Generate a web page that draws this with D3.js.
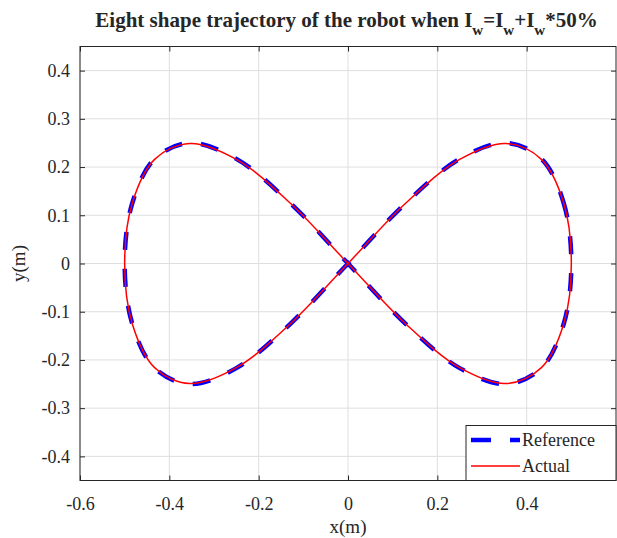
<!DOCTYPE html>
<html>
<head>
<meta charset="utf-8">
<script src="https://cdn.jsdelivr.net/npm/d3@7"></script>
<style>
  body { margin: 0; background: #fff; }
  text { font-family: "Liberation Serif", "Times New Roman", serif; fill: #262626; }
</style>
</head>
<body>
<div id="svg-holder"></div>
<script>
// trajectory points (x, y in metres)
const refX = [0.500, 0.483, 0.433, 0.354, 0.250, 0.129, 0.000, -0.129, -0.250, -0.354, -0.433, -0.483,
              -0.500, -0.483, -0.433, -0.354, -0.250, -0.129, 0.000, 0.129, 0.250, 0.354, 0.433, 0.483, 0.500];
const refY = [0.000, 0.125, 0.217, 0.250, 0.217, 0.125, 0.000, -0.125, -0.217, -0.250, -0.217, -0.125,
              0.000, 0.125, 0.217, 0.250, 0.217, 0.125, 0.000, -0.125, -0.217, -0.250, -0.217, -0.125, 0.000];
const actX = [0.500, 0.483, 0.433, 0.354, 0.250, 0.129, 0.000, -0.129, -0.250, -0.354, -0.433, -0.483,
              -0.500, -0.483, -0.433, -0.354, -0.250, -0.129, 0.000, 0.129, 0.250, 0.354, 0.433, 0.483, 0.500];
const actY = [0.000, 0.125, 0.216, 0.249, 0.216, 0.125, 0.000, -0.125, -0.216, -0.249, -0.216, -0.125,
              0.000, 0.125, 0.216, 0.249, 0.216, 0.125, 0.000, -0.125, -0.216, -0.249, -0.216, -0.125, 0.000];
const xTicks = [-0.6, -0.4, -0.2, 0, 0.2, 0.4];
const yTicks = [-0.4, -0.3, -0.2, -0.1, 0, 0.1, 0.2, 0.3, 0.4];
const seriesNames = ["Reference", "Actual"];

const W = 617, H = 538;
const L = 80, R = 616, T = 46.5, B = 480.5;
const serif = '"Liberation Serif", "Times New Roman", serif';

let svg = d3.select("#svg-holder").append("svg")
  .attr("width", W).attr("height", H);

const x = d3.scaleLinear().domain([-0.6, 0.6]).range([L, R]);
const y = d3.scaleLinear().domain([-0.45, 0.45]).range([B, T]);

// grid
svg.append("g").selectAll("line").data(xTicks).join("line")
  .attr("x1", d => x(d)).attr("x2", d => x(d)).attr("y1", T).attr("y2", B)
  .attr("stroke", "#dfdfdf").attr("stroke-width", 1);
svg.append("g").selectAll("line").data(yTicks).join("line")
  .attr("x1", L).attr("x2", R).attr("y1", d => y(d)).attr("y2", d => y(d))
  .attr("stroke", "#dfdfdf").attr("stroke-width", 1);

// axes (ticks inward, box on)
const fmt = d => d === 0 ? "0" : d.toFixed(1);   // plain hyphen minus like the reference
function styleAxis(g) {
  g.attr("font-family", serif);
  g.select(".domain").remove();
  g.selectAll(".tick line").attr("stroke", "#262626");
  g.selectAll(".tick text").style("font-size", "18px").style("font-family", serif).attr("fill", "#262626");
}
svg.append("g").attr("transform", `translate(0,${B})`)
  .call(d3.axisBottom(x).tickValues(xTicks).tickFormat(fmt).tickSizeInner(-5).tickSizeOuter(0).tickPadding(17))
  .call(styleAxis);
svg.append("g").attr("transform", `translate(0,${T})`)
  .call(d3.axisTop(x).tickValues(xTicks).tickFormat("").tickSizeInner(-5).tickSizeOuter(0))
  .call(styleAxis);
svg.append("g").attr("transform", `translate(${L},0)`)
  .call(d3.axisLeft(y).tickValues(yTicks).tickFormat(fmt).tickSizeInner(-5).tickSizeOuter(0).tickPadding(10))
  .call(styleAxis);
svg.append("g").attr("transform", `translate(${R},0)`)
  .call(d3.axisRight(y).tickValues(yTicks).tickFormat("").tickSizeInner(-5).tickSizeOuter(0))
  .call(styleAxis);

// lines
const refPts = refX.map((v, i) => [v, refY[i]]);
const actPts = actX.map((v, i) => [v, actY[i]]);
const line = d3.line().x(d => x(d[0])).y(d => y(d[1])).curve(d3.curveCatmullRomClosed.alpha(0.5));
svg.append("path").datum(refPts.slice(0, -1))
  .attr("d", line).attr("fill", "none")
  .attr("stroke", "#0000ff").attr("stroke-width", 4.5)
  .attr("stroke-dasharray", "18,19").attr("stroke-dashoffset", 6);
svg.append("path").datum(actPts.slice(0, -1))
  .attr("d", line).attr("fill", "none")
  .attr("stroke", "#ff0000").attr("stroke-width", 1.5);

// frame
svg.append("rect").attr("x", L).attr("y", T).attr("width", R - L).attr("height", B - T)
  .attr("fill", "none").attr("stroke", "#262626").attr("stroke-width", 1);

// legend
const lg = svg.append("g");
lg.append("rect").attr("x", 466).attr("y", 425.5).attr("width", R - 466).attr("height", B - 425.5)
  .attr("fill", "#fff").attr("stroke", "#262626").attr("stroke-width", 1);
const ly = [440, 466];
lg.append("line").attr("x1", 471).attr("x2", 520).attr("y1", ly[0]).attr("y2", ly[0])
  .attr("stroke", "#0000ff").attr("stroke-width", 4.5).attr("stroke-dasharray", "20,19");
lg.append("line").attr("x1", 471).attr("x2", 520).attr("y1", ly[1]).attr("y2", ly[1])
  .attr("stroke", "#ff0000").attr("stroke-width", 1.5);
lg.selectAll("text").data(seriesNames).join("text")
  .attr("x", 522).attr("y", (d, i) => ly[i] + 6)
  .style("font-size", "18px").text(d => d);

// labels
svg.append("text").attr("x", 25).attr("y", (T + B) / 2)
  .attr("transform", `rotate(-90,25,${(T + B) / 2})`).attr("text-anchor", "middle")
  .style("font-size", "19px").text("y(m)");
svg.append("text").attr("x", (L + R) / 2).attr("y", 533).attr("text-anchor", "middle")
  .style("font-size", "19px").text("x(m)");

const title = svg.append("text").attr("x", 346.5).attr("y", 27).attr("text-anchor", "middle")
  .style("font-size", "21px").style("font-weight", "bold");
const parts = ["Eight shape trajectory of the robot when I", "w", "=I", "w", "+I", "w", "*50%"];
parts.forEach((p, i) => {
  const sub = i % 2 === 1;
  title.append("tspan").attr("dy", sub ? 8 : (i > 0 ? -8 : 0))
    .style("font-size", sub ? "15px" : "21px").text(p);
});
</script>
</body>
</html>
